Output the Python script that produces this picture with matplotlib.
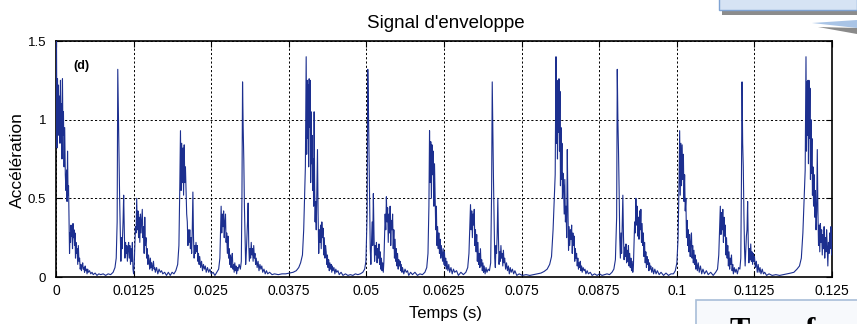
import numpy as np
import matplotlib
matplotlib.use('Agg')
import matplotlib.pyplot as plt
from matplotlib.patches import Rectangle, Polygon

# ---------------- data (time in ms, acceleration) ----------------
cycle1 = [
    (0.00, 0.95), (0.08, 1.50), (0.16, 0.82), (0.24, 1.26), (0.32, 0.95), (0.40, 1.22), (0.48, 0.90),
    (0.56, 1.15), (0.64, 0.85), (0.72, 1.25), (0.80, 0.98), (0.88, 1.10), (0.96, 0.75), (1.04, 1.26),
    (1.12, 0.90), (1.20, 1.05), (1.30, 0.70), (1.40, 0.95), (1.50, 0.65), (1.60, 0.55), (1.70, 0.68),
    (1.78, 0.48), (1.86, 0.80), (1.94, 0.52), (2.02, 0.58), (2.10, 0.35), (2.18, 0.15), (2.26, 0.28),
    (2.34, 0.22), (2.42, 0.33), (2.50, 0.26), (2.58, 0.30), (2.66, 0.18), (2.74, 0.34), (2.82, 0.25),
    (2.90, 0.30), (2.98, 0.20), (3.06, 0.28), (3.14, 0.12), (3.22, 0.22), (3.30, 0.15), (3.40, 0.18),
    (3.50, 0.08), (3.60, 0.20), (3.70, 0.10), (3.80, 0.12), (3.90, 0.05), (4.00, 0.08), (4.10, 0.04),
    (4.20, 0.07), (4.30, 0.09), (4.40, 0.05), (4.50, 0.06), (4.60, 0.03), (4.70, 0.07), (4.80, 0.04),
    (4.90, 0.05), (5.00, 0.02), (5.10, 0.05), (5.20, 0.03), (5.40, 0.04), (5.60, 0.02), (5.80, 0.03),
    (6.00, 0.015), (6.30, 0.025), (6.60, 0.01), (6.90, 0.02), (7.20, 0.015), (7.60, 0.02), (8.00, 0.01),
    (8.40, 0.02), (8.80, 0.015), (9.20, 0.03), (9.50, 0.06), (9.70, 0.12), (9.85, 0.35), (9.95, 1.32),
    (10.05, 1.05), (10.15, 0.75), (10.25, 0.50), (10.35, 0.30), (10.45, 0.10), (10.55, 0.25), (10.65, 0.18),
    (10.80, 0.35), (10.90, 0.52), (11.00, 0.30), (11.10, 0.12), (11.20, 0.22), (11.30, 0.15), (11.40, 0.20),
    (11.50, 0.10), (11.60, 0.18), (11.70, 0.22), (11.80, 0.12), (11.90, 0.20), (12.00, 0.08), (12.10, 0.18),
    (12.20, 0.10), (12.30, 0.22), (12.40, 0.05), (12.50, 0.02), (12.60, 0.08), (12.70, 0.20), (12.80, 0.32),
    (12.90, 0.28), (13.00, 0.50), (13.10, 0.30), (13.20, 0.42), (13.30, 0.25), (13.40, 0.38), (13.50, 0.22),
    (13.60, 0.40), (13.70, 0.28), (13.80, 0.35), (13.90, 0.43), (14.00, 0.25), (14.10, 0.32), (14.20, 0.15),
    (14.30, 0.38), (14.40, 0.20), (14.50, 0.25), (14.60, 0.12), (14.70, 0.18), (14.80, 0.08), (14.90, 0.14),
    (15.00, 0.10), (15.10, 0.05), (15.20, 0.12), (15.30, 0.06), (15.40, 0.09), (15.50, 0.04), (15.60, 0.07),
    (15.70, 0.10), (15.80, 0.05), (15.90, 0.06), (16.00, 0.03), (16.20, 0.06), (16.40, 0.02), (16.60, 0.05),
    (16.80, 0.03), (17.00, 0.04), (17.20, 0.02), (17.50, 0.03), (17.80, 0.01), (18.10, 0.03), (18.40, 0.01),
    (18.70, 0.03), (19.00, 0.02), (19.30, 0.04), (19.60, 0.08), (19.80, 0.20), (19.95, 0.60), (20.05, 0.93),
    (20.15, 0.55), (20.25, 0.85), (20.35, 0.60), (20.45, 0.82), (20.55, 0.52), (20.65, 0.84), (20.75, 0.60),
    (20.85, 0.70), (20.95, 0.55), (21.05, 0.40), (21.15, 0.35), (21.25, 0.20), (21.35, 0.30), (21.45, 0.22),
    (21.55, 0.30), (21.65, 0.18), (21.75, 0.25), (21.85, 0.15), (21.95, 0.30), (22.05, 0.54), (22.15, 0.25),
    (22.25, 0.12), (22.35, 0.20), (22.45, 0.15), (22.55, 0.22), (22.65, 0.16), (22.75, 0.20), (22.85, 0.10),
    (22.95, 0.15), (23.05, 0.08), (23.15, 0.13), (23.30, 0.06), (23.45, 0.10), (23.60, 0.04), (23.75, 0.08),
    (23.90, 0.05), (24.05, 0.07), (24.20, 0.03), (24.40, 0.06), (24.60, 0.03), (24.80, 0.05), (25.00, 0.02),
    (25.30, 0.03), (25.60, 0.01), (25.90, 0.03), (26.20, 0.05), (26.40, 0.12), (26.50, 0.30), (26.60, 0.45),
    (26.70, 0.28), (26.80, 0.40), (26.90, 0.32), (27.00, 0.42), (27.10, 0.25), (27.20, 0.35), (27.30, 0.40),
    (27.40, 0.22), (27.50, 0.28), (27.60, 0.15), (27.70, 0.26), (27.80, 0.12), (27.90, 0.18), (28.00, 0.08),
    (28.10, 0.14), (28.20, 0.06), (28.30, 0.12), (28.40, 0.15), (28.50, 0.05), (28.60, 0.08), (28.70, 0.03),
    (28.80, 0.09), (28.90, 0.04), (29.00, 0.07), (29.10, 0.02), (29.20, 0.06), (29.30, 0.04), (29.50, 0.08),
    (29.70, 0.05), (29.85, 0.10), (29.95, 0.50), (30.05, 1.24), (30.15, 0.95), (30.25, 0.75), (30.35, 0.45),
    (30.45, 0.25), (30.55, 0.08), (30.65, 0.15), (30.75, 0.25), (30.85, 0.35), (30.95, 0.47), (31.05, 0.20),
    (31.15, 0.10), (31.25, 0.18), (31.35, 0.12), (31.45, 0.22), (31.55, 0.14), (31.65, 0.18), (31.75, 0.10),
    (31.85, 0.20), (31.95, 0.12), (32.05, 0.15), (32.15, 0.08), (32.25, 0.12), (32.40, 0.06), (32.55, 0.10),
    (32.70, 0.04), (32.85, 0.08), (33.00, 0.05), (33.15, 0.07), (33.30, 0.03), (33.50, 0.05), (33.70, 0.02),
    (33.90, 0.04), (34.10, 0.02), (34.40, 0.03), (34.80, 0.015), (35.20, 0.02), (35.80, 0.015), (36.40, 0.02),
    (37.00, 0.02), (37.60, 0.025), (38.20, 0.03), (38.70, 0.04), (39.10, 0.06), (39.40, 0.09), (39.70, 0.14),
    (39.90, 0.30),
]

cycle2_start_ms = 40.22
cycle2_rel = [
    (-0.05, 0.70), (0.08, 1.40), (0.16, 0.78), (0.24, 1.25), (0.32, 0.88), (0.40, 1.22), (0.48, 0.70),
    (0.56, 1.26), (0.64, 0.95), (0.72, 1.25), (0.80, 0.60), (0.88, 1.05), (0.96, 0.72), (1.04, 0.90),
    (1.12, 0.55), (1.20, 0.75), (1.28, 0.45), (1.36, 1.05), (1.44, 0.60), (1.52, 0.35), (1.60, 0.48),
    (1.70, 0.30), (1.80, 0.55), (1.90, 0.81), (2.00, 0.40), (2.10, 0.15), (2.20, 0.30), (2.30, 0.22),
    (2.40, 0.33), (2.50, 0.18), (2.60, 0.35), (2.70, 0.25), (2.80, 0.31), (2.90, 0.14), (3.00, 0.25),
    (3.10, 0.12), (3.20, 0.20), (3.30, 0.16), (3.40, 0.08), (3.50, 0.14), (3.60, 0.06), (3.70, 0.11),
    (3.80, 0.04), (3.90, 0.09), (4.00, 0.05), (4.10, 0.08), (4.20, 0.03), (4.30, 0.07), (4.40, 0.04),
    (4.55, 0.06), (4.70, 0.02), (4.85, 0.05), (5.00, 0.03), (5.20, 0.04), (5.40, 0.015), (5.70, 0.03),
    (6.00, 0.01), (6.40, 0.02), (6.80, 0.01), (7.20, 0.015), (7.60, 0.01), (8.00, 0.02), (8.40, 0.015),
    (8.80, 0.02), (9.20, 0.03), (9.50, 0.05), (9.70, 0.10), (9.90, 0.40), (10.00, 1.32), (10.10, 1.10),
    (10.20, 0.78), (10.30, 0.45), (10.40, 0.18), (10.50, 0.08), (10.60, 0.22), (10.70, 0.35), (10.80, 0.20),
    (10.90, 0.53), (11.00, 0.28), (11.10, 0.10), (11.20, 0.20), (11.30, 0.14), (11.40, 0.22), (11.50, 0.09),
    (11.60, 0.18), (11.70, 0.12), (11.80, 0.21), (11.90, 0.08), (12.00, 0.16), (12.10, 0.05), (12.20, 0.12),
    (12.30, 0.04), (12.40, 0.09), (12.50, 0.03), (12.60, 0.10), (12.70, 0.25), (12.80, 0.40), (12.90, 0.30),
    (13.00, 0.51), (13.10, 0.35), (13.20, 0.44), (13.30, 0.22), (13.40, 0.40), (13.50, 0.28), (13.60, 0.45),
    (13.70, 0.20), (13.80, 0.36), (13.90, 0.30), (14.00, 0.40), (14.10, 0.18), (14.20, 0.30), (14.30, 0.12),
    (14.40, 0.24), (14.50, 0.10), (14.60, 0.18), (14.70, 0.07), (14.80, 0.15), (14.90, 0.05), (15.00, 0.11),
    (15.10, 0.07), (15.20, 0.10), (15.30, 0.04), (15.40, 0.08), (15.50, 0.03), (15.60, 0.06), (15.80, 0.02),
    (16.00, 0.05), (16.20, 0.03), (16.40, 0.04), (16.60, 0.01), (16.90, 0.03), (17.20, 0.015), (17.60, 0.03),
    (18.00, 0.01), (18.40, 0.02), (18.80, 0.015), (19.20, 0.03), (19.50, 0.06), (19.70, 0.15), (19.85, 0.45),
    (19.95, 0.93), (20.05, 0.60), (20.15, 0.86), (20.25, 0.50), (20.35, 0.84), (20.45, 0.65), (20.55, 0.80),
    (20.65, 0.45), (20.75, 0.72), (20.85, 0.50), (20.95, 0.30), (21.05, 0.45), (21.15, 0.20), (21.25, 0.32),
    (21.35, 0.18), (21.45, 0.28), (21.55, 0.15), (21.65, 0.24), (21.75, 0.12), (21.85, 0.20), (21.95, 0.15),
    (22.05, 0.10), (22.15, 0.18), (22.25, 0.08), (22.35, 0.16), (22.45, 0.07), (22.55, 0.12), (22.65, 0.05),
    (22.75, 0.10), (22.90, 0.04), (23.05, 0.08), (23.20, 0.03), (23.40, 0.06), (23.60, 0.02), (23.80, 0.05),
    (24.00, 0.03), (24.30, 0.04), (24.60, 0.01), (25.00, 0.03), (25.40, 0.015), (25.80, 0.03), (26.10, 0.06),
    (26.30, 0.15), (26.45, 0.35), (26.55, 0.46), (26.65, 0.30), (26.75, 0.42), (26.85, 0.25), (26.95, 0.40),
    (27.05, 0.33), (27.15, 0.43), (27.25, 0.20), (27.35, 0.30), (27.45, 0.16), (27.55, 0.27), (27.65, 0.10),
    (27.75, 0.22), (27.85, 0.08), (27.95, 0.15), (28.05, 0.06), (28.15, 0.18), (28.25, 0.07), (28.35, 0.11),
    (28.45, 0.04), (28.55, 0.09), (28.65, 0.03), (28.75, 0.07), (28.90, 0.02), (29.05, 0.06), (29.20, 0.03),
    (29.40, 0.05), (29.60, 0.04), (29.80, 0.09), (29.95, 0.55), (30.05, 1.24), (30.15, 0.90), (30.25, 0.62),
    (30.35, 0.35), (30.45, 0.12), (30.55, 0.06), (30.65, 0.20), (30.75, 0.15), (30.85, 0.28), (30.95, 0.50),
    (31.05, 0.25), (31.15, 0.08), (31.25, 0.16), (31.35, 0.10), (31.45, 0.20), (31.55, 0.12), (31.65, 0.15),
    (31.75, 0.07), (31.85, 0.17), (31.95, 0.09), (32.05, 0.12), (32.20, 0.05), (32.35, 0.09), (32.50, 0.04),
    (32.65, 0.07), (32.80, 0.02), (32.95, 0.06), (33.10, 0.03), (33.30, 0.05), (33.50, 0.02), (33.70, 0.04),
    (34.00, 0.01), (34.40, 0.02), (34.90, 0.01), (35.50, 0.015), (36.10, 0.01), (36.70, 0.015), (37.30, 0.02),
    (37.90, 0.025), (38.40, 0.035), (38.90, 0.05), (39.30, 0.08), (39.60, 0.13), (39.85, 0.30),
]

cycle3_start_ms = 80.46
cycle3_rel = [
    (-0.05, 0.65), (0.08, 1.40), (0.16, 0.85), (0.24, 1.20), (0.32, 0.75), (0.40, 1.25), (0.48, 0.92),
    (0.56, 1.26), (0.64, 0.80), (0.72, 1.18), (0.80, 0.58), (0.88, 0.95), (0.96, 0.62), (1.04, 0.85),
    (1.12, 0.50), (1.20, 0.66), (1.30, 0.58), (1.40, 0.40), (1.50, 0.62), (1.60, 0.35), (1.70, 0.45),
    (1.80, 0.25), (1.90, 0.81), (2.00, 0.45), (2.10, 0.17), (2.20, 0.32), (2.30, 0.20), (2.40, 0.30),
    (2.50, 0.24), (2.60, 0.33), (2.70, 0.15), (2.80, 0.28), (2.90, 0.20), (3.00, 0.26), (3.10, 0.10),
    (3.20, 0.18), (3.30, 0.12), (3.40, 0.15), (3.50, 0.07), (3.60, 0.12), (3.70, 0.05), (3.80, 0.09),
    (3.90, 0.06), (4.00, 0.10), (4.10, 0.04), (4.20, 0.07), (4.30, 0.03), (4.45, 0.06), (4.60, 0.04),
    (4.75, 0.05), (4.90, 0.02), (5.10, 0.04), (5.30, 0.02), (5.60, 0.03), (5.90, 0.01), (6.30, 0.02),
    (6.70, 0.01), (7.10, 0.02), (7.50, 0.01), (7.90, 0.015), (8.30, 0.02), (8.70, 0.015), (9.10, 0.03),
    (9.40, 0.05), (9.65, 0.11), (9.85, 0.38), (9.95, 1.32), (10.05, 1.00), (10.15, 0.80), (10.25, 0.55),
    (10.35, 0.25), (10.45, 0.12), (10.55, 0.28), (10.65, 0.15), (10.75, 0.33), (10.85, 0.52), (10.95, 0.26),
    (11.05, 0.11), (11.15, 0.19), (11.25, 0.13), (11.35, 0.21), (11.45, 0.09), (11.55, 0.17), (11.65, 0.10),
    (11.75, 0.20), (11.85, 0.07), (11.95, 0.15), (12.05, 0.06), (12.15, 0.12), (12.25, 0.04), (12.35, 0.10),
    (12.45, 0.03), (12.55, 0.07), (12.65, 0.20), (12.75, 0.35), (12.85, 0.28), (12.95, 0.50), (13.05, 0.33),
    (13.15, 0.45), (13.25, 0.26), (13.35, 0.38), (13.45, 0.24), (13.55, 0.42), (13.65, 0.30), (13.75, 0.43),
    (13.85, 0.22), (13.95, 0.34), (14.05, 0.20), (14.15, 0.28), (14.25, 0.13), (14.35, 0.22), (14.45, 0.09),
    (14.55, 0.16), (14.65, 0.06), (14.75, 0.13), (14.85, 0.08), (14.95, 0.11), (15.05, 0.04), (15.15, 0.09),
    (15.25, 0.05), (15.35, 0.07), (15.50, 0.03), (15.65, 0.06), (15.80, 0.02), (16.00, 0.05), (16.20, 0.02),
    (16.40, 0.04), (16.70, 0.015), (17.00, 0.03), (17.40, 0.01), (17.80, 0.025), (18.20, 0.01), (18.60, 0.02),
    (19.00, 0.02), (19.30, 0.04), (19.55, 0.09), (19.75, 0.25), (19.90, 0.60), (20.00, 0.93), (20.10, 0.52),
    (20.20, 0.85), (20.30, 0.58), (20.40, 0.84), (20.50, 0.62), (20.60, 0.78), (20.70, 0.48), (20.80, 0.65),
    (20.90, 0.42), (21.00, 0.50), (21.10, 0.25), (21.20, 0.36), (21.30, 0.20), (21.40, 0.30), (21.50, 0.16),
    (21.60, 0.27), (21.70, 0.13), (21.80, 0.22), (21.90, 0.28), (22.00, 0.12), (22.10, 0.20), (22.20, 0.09),
    (22.30, 0.17), (22.40, 0.08), (22.50, 0.14), (22.60, 0.05), (22.70, 0.11), (22.85, 0.04), (23.00, 0.09),
    (23.15, 0.03), (23.35, 0.07), (23.55, 0.02), (23.75, 0.05), (24.00, 0.02), (24.30, 0.04), (24.60, 0.015),
    (25.00, 0.03), (25.40, 0.01), (25.80, 0.03), (26.10, 0.05), (26.30, 0.14), (26.45, 0.32), (26.55, 0.45),
    (26.65, 0.27), (26.75, 0.41), (26.85, 0.30), (26.95, 0.43), (27.05, 0.22), (27.15, 0.38), (27.25, 0.26),
    (27.35, 0.33), (27.45, 0.14), (27.55, 0.25), (27.65, 0.12), (27.75, 0.20), (27.85, 0.07), (27.95, 0.16),
    (28.05, 0.05), (28.15, 0.12), (28.25, 0.08), (28.35, 0.14), (28.45, 0.04), (28.55, 0.08), (28.65, 0.02),
    (28.80, 0.06), (28.95, 0.03), (29.10, 0.05), (29.30, 0.02), (29.50, 0.06), (29.70, 0.05), (29.85, 0.12),
    (29.95, 0.60), (30.05, 1.24), (30.15, 0.85), (30.25, 0.70), (30.35, 0.40), (30.45, 0.18), (30.55, 0.07),
    (30.65, 0.16), (30.75, 0.26), (30.85, 0.30), (30.95, 0.48), (31.05, 0.22), (31.15, 0.09), (31.25, 0.18),
    (31.35, 0.11), (31.45, 0.21), (31.55, 0.10), (31.65, 0.16), (31.75, 0.08), (31.85, 0.15), (31.95, 0.10),
    (32.05, 0.13), (32.20, 0.06), (32.35, 0.10), (32.50, 0.03), (32.65, 0.08), (32.80, 0.03), (32.95, 0.06),
    (33.10, 0.02), (33.30, 0.05), (33.50, 0.02), (33.70, 0.03), (34.00, 0.01), (34.40, 0.02), (34.90, 0.01),
    (35.50, 0.015), (36.10, 0.01), (36.70, 0.015), (37.30, 0.02), (37.90, 0.025), (38.40, 0.03), (38.90, 0.05),
    (39.30, 0.07), (39.60, 0.12), (39.85, 0.28),
]

cycle4_start_ms = 120.73
cycle4_rel = [
    (-0.05, 0.68), (0.08, 1.40), (0.16, 0.80), (0.24, 1.24), (0.32, 0.90), (0.40, 1.25), (0.48, 0.72),
    (0.56, 1.25), (0.64, 0.88), (0.72, 1.20), (0.80, 0.62), (0.88, 1.00), (0.96, 0.66), (1.04, 0.88),
    (1.12, 0.52), (1.20, 0.70), (1.30, 0.45), (1.40, 0.65), (1.50, 0.38), (1.60, 0.55), (1.70, 0.30),
    (1.80, 0.42), (1.90, 0.81), (2.00, 0.42), (2.10, 0.20), (2.20, 0.33), (2.30, 0.16), (2.40, 0.34),
    (2.50, 0.22), (2.60, 0.30), (2.70, 0.14), (2.80, 0.27), (2.90, 0.18), (3.00, 0.32), (3.10, 0.12),
    (3.20, 0.25), (3.30, 0.16), (3.40, 0.30), (3.50, 0.20), (3.60, 0.07), (3.70, 0.22), (3.80, 0.15),
    (3.90, 0.28), (4.00, 0.18), (4.10, 0.32), (4.20, 0.14), (4.27, 0.27),
]

xtick_values = [0, 0.0125, 0.025, 0.0375, 0.05, 0.0625, 0.075, 0.0875, 0.1, 0.1125, 0.125]
xtick_labels = ['0', '0.0125', '0.025', '0.0375', '0.05', '0.0625', '0.075', '0.0875', '0.1', '0.1125', '0.125']
ytick_values = [0, 0.5, 1, 1.5]
ytick_labels = ['0', '0.5', '1', '1.5']

# ---------------- assemble series ----------------
t_ms = [p[0] for p in cycle1]
acc = [p[1] for p in cycle1]
for start, rel in ((cycle2_start_ms, cycle2_rel), (cycle3_start_ms, cycle3_rel), (cycle4_start_ms, cycle4_rel)):
    t_ms += [start + p[0] for p in rel]
    acc += [p[1] for p in rel]
t_s = np.array(t_ms) / 1000.0
acc = np.array(acc)

# ---------------- figure ----------------
plt.rcParams['font.family'] = ['Liberation Sans', 'DejaVu Sans']
W, H = 857, 324
fig = plt.figure(figsize=(W / 100, H / 100), dpi=100)
fig.patch.set_facecolor('white')

L, R, T, B = 56, 832, 41, 277
ax = fig.add_axes([L / W, 1 - B / H, (R - L) / W, (B - T) / H])
ax.plot(t_s, acc, color='#1c2f8f', lw=0.8, zorder=3)
ax.set_xlim(0, 0.125)
ax.set_ylim(0, 1.5)
ax.set_xticks(xtick_values)
ax.set_xticklabels(xtick_labels)
ax.set_yticks(ytick_values)
ax.set_yticklabels(ytick_labels)
ax.grid(True, color='black', linestyle=(0, (2.2, 2.2)), linewidth=0.7)
ax.tick_params(axis='both', direction='in', top=True, right=True, length=4, width=0.8,
               labelsize=10, colors='black')
ax.tick_params(axis='x', pad=5)
ax.tick_params(axis='y', pad=7, labelsize=9.5)
for s in ax.spines.values():
    s.set_linewidth(1.2)
    s.set_color('black')

ax.text(0.022, 0.895, '(d)', transform=ax.transAxes, fontsize=9, fontweight='bold',
        ha='left', va='center')

fig.text(445.7 / W, 1 - 28 / H, "Signal d'enveloppe", ha='center', va='baseline', fontsize=13.5)
fig.text(445 / W, 1 - 318 / H, 'Temps (s)', ha='center', va='baseline', fontsize=12)
fig.text(17 / W, 1 - 160.5 / H, 'Accélération', ha='center', va='center', rotation=90, fontsize=12.5)

# decorative overlapping elements (screenshot artefacts)
def px_rect(x0, y0, x1, y1, **kw):
    return Rectangle((x0 / W, 1 - y1 / H), (x1 - x0) / W, (y1 - y0) / H,
                     transform=fig.transFigure, **kw)

fig.patches.append(px_rect(722, 10, 857, 15, facecolor='#8c8c8c', edgecolor='none'))
fig.patches.append(px_rect(719, -5, 857, 10, facecolor='#d6e3f4', edgecolor='#7fa3d3', linewidth=1.0))
fig.patches.append(Polygon([(812 / W, 1 - 23 / H), (857 / W, 1 - 20 / H), (857 / W, 1 - 28 / H)],
                           closed=True, transform=fig.transFigure, facecolor='#a9c4e6', edgecolor='none'))
fig.patches.append(Polygon([(818 / W, 1 - 27 / H), (857 / W, 1 - 28 / H), (857 / W, 1 - 34 / H)],
                           closed=True, transform=fig.transFigure, facecolor='#8a8a8a', edgecolor='none'))
fig.patches.append(px_rect(696, 300, 860, 330, facecolor='#f7f9fc', edgecolor='#a8bdd8', linewidth=1.2))
fig.text(729 / W, 1 - 317 / H, 'Transformée', ha='left', va='top', fontsize=22, fontweight='bold',
         family=['Liberation Serif', 'DejaVu Serif'])

fig.savefig('out.png', dpi=100, facecolor='white')
